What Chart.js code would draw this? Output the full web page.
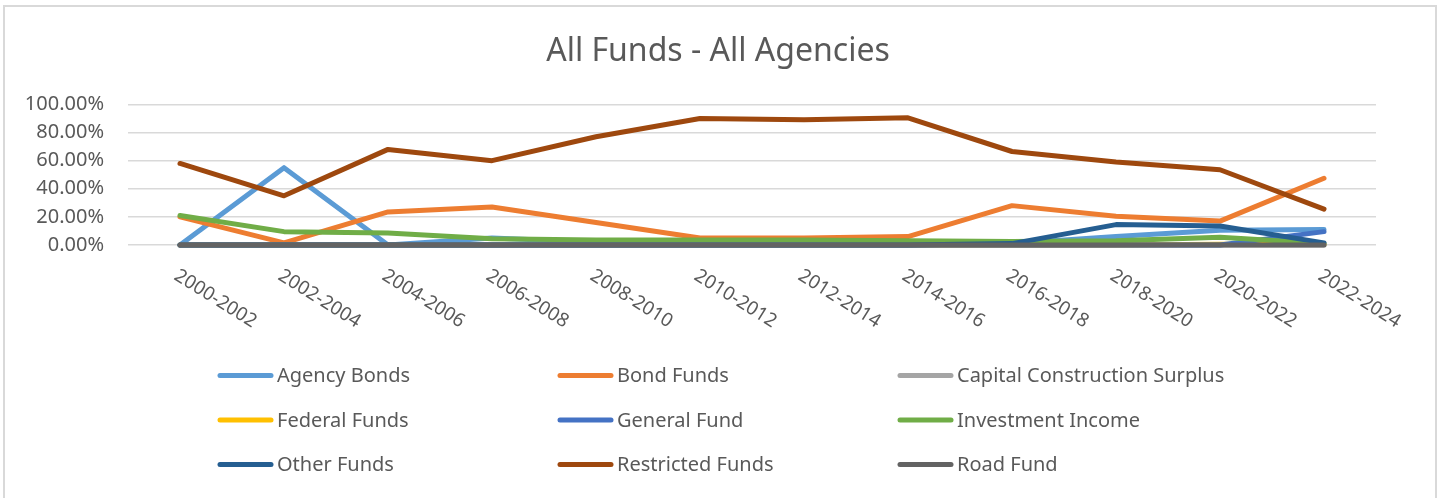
<!DOCTYPE html>
<html>
<head>
<meta charset="utf-8">
<script src="https://cdn.jsdelivr.net/npm/chart.js@4.4.1/dist/chart.umd.min.js"></script>
<style>
  html, body { margin: 0; padding: 0; background: #ffffff; overflow: hidden; }
  #wrap { position: relative; width: 1445px; height: 498px; overflow: hidden; }
  #frame { position: absolute; left: 3px; top: 5px; width: 1434px; height: 520px; border: 2px solid #D9D9D9; box-sizing: border-box; }
  #c { position: absolute; left: -9px; top: 0; }
</style>
</head>
<body>
<div id="wrap">
  <div id="frame"></div>
  <canvas id="c" width="1454" height="498"></canvas>
</div>
<script>
const chartTitle = 'All Funds - All Agencies';
const categories = ['2000-2002','2002-2004','2004-2006','2006-2008','2008-2010','2010-2012','2012-2014','2014-2016','2016-2018','2018-2020','2020-2022','2022-2024'];
const yTicks = [0, 20, 40, 60, 80, 100];

const agencyBonds        = [0, 55, 0, 5, 2, 1.5, 1.5, 1, 1, 6, 10.5, 11];
const bondFunds          = [20, 1.5, 23.5, 27, 16, 5, 5, 6, 28, 20.5, 17, 47.5];
const capitalConstruction= [0, 0, 0, 0, 0, 0, 0, 0, 0, 0, 0, 0];
const federalFunds       = [0, 0, 0, 0, 0, 0, 0, 0, 0, 0, 0.5, 0.5];
const generalFund        = [0, 0, 0, 0, 0, 0, 0, 0, 0, 0, 0, 9.5];
const investmentIncome   = [21, 9.5, 8.5, 4.5, 3.5, 3.5, 3.5, 3, 2.5, 3, 5.5, 1];
const otherFunds         = [0, 0, 0, 0, 0, 0, 0, 0, 1, 14.5, 13.5, 1.5];
const restrictedFunds    = [58, 35, 68, 60, 77, 90, 89, 90.5, 66.5, 59, 53.5, 25.5];
const roadFund           = [0, 0, 0, 0, 0, 0, 0, 0, 0, 0, 0, 0];

const seriesNames  = ['Agency Bonds','Bond Funds','Capital Construction Surplus','Federal Funds','General Fund','Investment Income','Other Funds','Restricted Funds','Road Fund'];
const seriesValues = [agencyBonds, bondFunds, capitalConstruction, federalFunds, generalFund, investmentIncome, otherFunds, restrictedFunds, roadFund];
const seriesColors = ['#5B9BD5','#ED7D31','#A5A5A5','#FFC000','#4472C4','#70AD47','#255E91','#9E480E','#636363'];

const FONT = '"Noto Sans", "Open Sans", sans-serif';
const TEXT = '#595959';

const datasets = seriesNames.map((name, i) => ({
  label: name,
  data: seriesValues[i],
  borderColor: seriesColors[i],
  backgroundColor: seriesColors[i],
  borderWidth: 5,
  pointRadius: 0,
  pointHoverRadius: 0,
  tension: 0,
  fill: false,
  clip: false,
  borderJoinStyle: 'round',
  borderCapStyle: 'round',
  order: seriesNames.length - 1 - i
}));

// draws rotated category labels and the 3-column legend
const extras = {
  id: 'extras',
  afterDraw(chart) {
    const ctx = chart.ctx;
    const xs = chart.scales.x;
    const area = chart.chartArea;
    ctx.save();
    ctx.fillStyle = TEXT;
    ctx.font = '19px ' + FONT;
    ctx.textAlign = 'left';
    ctx.textBaseline = 'top';
    chart.data.labels.forEach((lab, i) => {
      const x = xs.getPixelForValue(i);
      ctx.save();
      ctx.translate(x + 1, area.bottom + 21);
      ctx.rotate(32 * Math.PI / 180);
      ctx.fillText(lab, 0, 0);
      ctx.restore();
    });
    ctx.restore();

    // legend
    const off = 9;
    const colX = [218, 558, 898];
    const rowY = [375.5, 420, 464.5];
    ctx.save();
    ctx.font = '20px ' + FONT;
    ctx.textBaseline = 'middle';
    ctx.textAlign = 'left';
    chart.data.datasets.forEach((ds, i) => {
      const cx = colX[i % 3] + off;
      const cy = rowY[Math.floor(i / 3)];
      ctx.strokeStyle = ds.borderColor;
      ctx.lineWidth = 5;
      ctx.lineCap = 'round';
      ctx.beginPath();
      ctx.moveTo(cx + 2, cy);
      ctx.lineTo(cx + 53, cy);
      ctx.stroke();
      ctx.fillStyle = TEXT;
      ctx.fillText(ds.label, cx + 59, cy + 1);
    });
    ctx.restore();
  }
};

new Chart(document.getElementById('c'), {
  type: 'line',
  data: { labels: categories, datasets: datasets },
  plugins: [extras],
  options: {
    responsive: false,
    animation: false,
    devicePixelRatio: 1,
    layout: { padding: { left: 0, right: 0, top: 0, bottom: 153 } },
    plugins: {
      legend: { display: false },
      tooltip: { enabled: false },
      title: {
        display: true,
        text: chartTitle,
        color: TEXT,
        font: { family: FONT, size: 32, weight: 'normal', lineHeight: 1.2 },
        padding: { top: 33, bottom: 33 }
      }
    },
    scales: {
      x: {
        offset: true,
        grid: { display: false },
        border: { display: false },
        ticks: { display: false },
        afterFit(scale) { scale.height = 100; }
      },
      y: {
        min: 0,
        max: 100,
        afterBuildTicks(scale) { scale.ticks = yTicks.map(v => ({ value: v })); },
        afterFit(scale) { scale.width = 137; },
        grid: { color: '#D9D9D9', lineWidth: 1.5, drawTicks: false },
        border: { display: false },
        ticks: {
          color: TEXT,
          padding: 24,
          font: { family: FONT, size: 20 },
          callback: v => v.toFixed(2) + '%'
        }
      },
      yRight: {
        position: 'right',
        display: true,
        min: 0,
        max: 100,
        grid: { display: false, drawTicks: false },
        border: { display: false },
        ticks: { display: false },
        afterFit(scale) { scale.width = 69; }
      }
    }
  }
});
</script>
</body>
</html>
